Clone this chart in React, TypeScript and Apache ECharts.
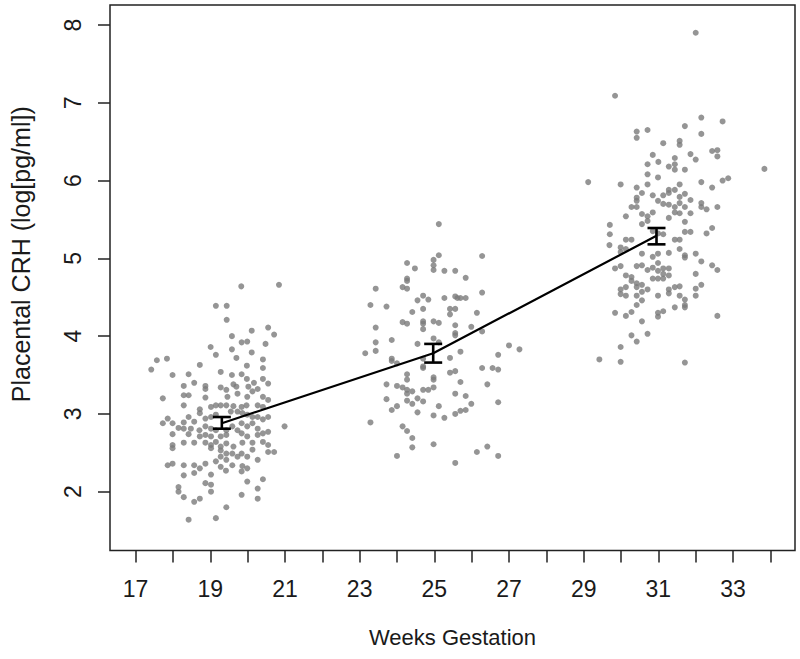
import React, { useEffect, useRef } from "react";
import * as echarts from "echarts";

// Individual samples, [weeks gestation, placental CRH log(pg/ml)]
const week19Points: number[][] = [
  [19.83, 4.64], [20.84, 4.66], [19.15, 4.39], [19.44, 4.39], [19.44, 4.21], [20.55, 4.11], [20.11, 4.07], [20.71, 4.02],
  [19.58, 4.0], [19.84, 3.92], [19.99, 3.93], [20.48, 3.9], [19.01, 3.86], [19.58, 3.83], [20.11, 3.79], [19.15, 3.76],
  [17.57, 3.69], [17.84, 3.71], [19.7, 3.72], [20.41, 3.7], [17.42, 3.57], [18.72, 3.63], [19.98, 3.62], [20.41, 3.59],
  [17.99, 3.5], [18.42, 3.51], [19.28, 3.54], [19.58, 3.5], [19.84, 3.51], [18.57, 3.4], [18.87, 3.36], [19.28, 3.34],
  [19.43, 3.31], [19.98, 3.45], [20.17, 3.4], [20.41, 3.45], [20.55, 3.39], [18.29, 3.36], [18.87, 3.32], [19.62, 3.38],
  [19.7, 3.35], [20.02, 3.35], [20.27, 3.32], [20.13, 3.29], [17.73, 3.2], [18.29, 3.24], [18.42, 3.24], [18.87, 3.21],
  [19.46, 3.22], [19.73, 3.26], [19.99, 3.22], [20.41, 3.22], [20.55, 3.18], [18.29, 3.11], [18.72, 3.06], [19.02, 3.09],
  [19.15, 3.11], [19.28, 3.11], [19.43, 3.11], [19.62, 3.1], [19.84, 3.09], [19.97, 3.11], [20.27, 3.11], [20.41, 3.09],
  [17.73, 2.88], [17.86, 2.94], [17.99, 2.88], [18.29, 2.89], [18.42, 2.96], [18.57, 2.9], [18.72, 3.01], [18.87, 2.94],
  [19.02, 2.96], [19.15, 2.99], [19.55, 3.03], [19.73, 3.03], [19.86, 3.01], [19.99, 2.99], [20.13, 2.96], [20.27, 2.96],
  [20.41, 2.93], [20.55, 2.96], [20.99, 2.84], [18.15, 2.82], [18.29, 2.81], [18.48, 2.81], [18.71, 2.79], [18.87, 2.84],
  [19.02, 2.81], [19.15, 2.79], [19.43, 2.79], [19.59, 2.84], [19.84, 2.88], [19.99, 2.84], [20.13, 2.88], [20.27, 2.81],
  [20.55, 2.77], [17.99, 2.74], [18.42, 2.74], [18.72, 2.71], [18.87, 2.73], [19.02, 2.71], [19.28, 2.71], [19.43, 2.73],
  [19.73, 2.79], [19.84, 2.75], [19.99, 2.71], [20.27, 2.73], [20.41, 2.75], [18.57, 2.63], [18.87, 2.63], [19.02, 2.6],
  [19.15, 2.64], [19.28, 2.58], [19.43, 2.62], [19.62, 2.58], [19.86, 2.63], [20.13, 2.63], [20.41, 2.64], [20.55, 2.6],
  [17.99, 2.6], [18.29, 2.63], [17.99, 2.56], [19.02, 2.56], [19.28, 2.53], [19.43, 2.49], [19.59, 2.49], [19.84, 2.49],
  [20.13, 2.54], [20.55, 2.51], [20.71, 2.51], [19.28, 2.45], [19.43, 2.41], [19.73, 2.45], [19.99, 2.45], [20.27, 2.41],
  [17.86, 2.34], [17.99, 2.36], [18.29, 2.34], [18.57, 2.34], [18.72, 2.3], [18.87, 2.36], [19.15, 2.39], [19.28, 2.32],
  [19.59, 2.34], [19.86, 2.33], [18.29, 2.21], [18.57, 2.24], [19.02, 2.22], [19.42, 2.27], [19.84, 2.26], [19.99, 2.3],
  [20.41, 2.16], [18.15, 2.06], [18.87, 2.11], [19.02, 2.09], [19.99, 2.13], [20.27, 2.04], [18.15, 2.0], [18.29, 1.93],
  [19.02, 2.0], [19.84, 1.96], [20.27, 1.91], [18.57, 1.87], [18.72, 1.91], [19.43, 1.8], [18.42, 1.64], [19.15, 1.66],
];

const week25Points: number[][] = [
  [25.12, 5.44], [25.12, 5.04], [26.28, 5.03], [24.27, 4.94], [24.98, 4.98], [24.98, 4.91], [24.48, 4.87], [24.98, 4.85],
  [25.27, 4.84], [25.56, 4.84], [24.27, 4.74], [24.27, 4.71], [25.84, 4.75], [23.43, 4.61], [24.15, 4.63], [24.27, 4.61],
  [24.7, 4.52], [24.55, 4.46], [24.84, 4.47], [25.27, 4.49], [25.56, 4.51], [25.62, 4.49], [25.7, 4.49], [25.84, 4.49],
  [26.28, 4.56], [23.29, 4.4], [23.72, 4.38], [24.41, 4.31], [24.7, 4.35], [25.42, 4.35], [25.56, 4.35], [25.42, 4.28],
  [26.14, 4.3], [23.43, 4.11], [24.15, 4.18], [24.27, 4.16], [24.7, 4.19], [24.7, 4.16], [24.98, 4.19], [25.12, 4.17],
  [25.56, 4.14], [25.99, 4.12], [24.7, 4.09], [25.56, 4.04], [25.56, 4.01], [26.28, 4.06], [23.43, 3.92], [23.86, 3.95],
  [24.55, 3.9], [24.98, 3.97], [25.12, 3.92], [23.15, 3.78], [23.43, 3.81], [23.86, 3.71], [23.86, 3.68], [24.0, 3.65],
  [24.7, 3.71], [25.42, 3.72], [25.7, 3.8], [26.71, 3.76], [27.0, 3.88], [27.28, 3.83], [24.7, 3.61], [24.7, 3.59],
  [25.42, 3.53], [25.56, 3.55], [26.28, 3.59], [26.56, 3.59], [26.71, 3.57], [24.27, 3.51], [24.27, 3.44], [24.98, 3.47],
  [24.98, 3.44], [25.7, 3.41], [26.42, 3.38], [23.72, 3.38], [24.0, 3.36], [24.15, 3.34], [24.27, 3.31], [24.41, 3.29],
  [24.7, 3.31], [24.84, 3.31], [24.98, 3.34], [24.27, 3.26], [25.56, 3.26], [25.84, 3.23], [23.72, 3.19], [24.0, 3.1],
  [24.27, 3.17], [24.41, 3.13], [24.55, 3.2], [24.7, 3.16], [26.71, 3.15], [25.99, 3.13], [23.86, 3.05], [24.55, 3.02],
  [24.98, 2.98], [25.12, 3.1], [25.27, 2.95], [25.56, 3.0], [25.7, 3.04], [25.84, 3.05], [23.29, 2.89], [24.15, 2.84],
  [24.27, 2.78], [24.41, 2.69], [24.41, 2.57], [24.98, 2.61], [24.0, 2.46], [25.56, 2.37], [26.14, 2.51], [26.42, 2.58],
  [26.71, 2.46],
];

const week31Points: number[][] = [
  [32.0, 7.9], [29.84, 7.09], [32.15, 6.81], [32.72, 6.76], [30.42, 6.63], [30.42, 6.55], [30.71, 6.65], [31.71, 6.7],
  [32.15, 6.6], [31.13, 6.48], [31.57, 6.51], [31.57, 6.46], [32.44, 6.38], [32.58, 6.39], [32.58, 6.31], [30.85, 6.33],
  [31.86, 6.34], [32.0, 6.27], [31.44, 6.29], [30.71, 6.21], [31.0, 6.24], [31.28, 6.18], [31.44, 6.21], [31.44, 6.14],
  [31.71, 6.14], [30.71, 6.08], [30.99, 6.04], [33.84, 6.15], [29.12, 5.98], [29.99, 5.95], [30.42, 5.91], [30.71, 5.95],
  [31.57, 5.95], [32.15, 5.98], [32.44, 5.91], [32.72, 6.0], [32.87, 6.03], [30.56, 5.84], [30.42, 5.78], [30.42, 5.74],
  [30.85, 5.81], [31.28, 5.88], [31.28, 5.84], [31.44, 5.88], [31.13, 5.81], [31.57, 5.79], [31.71, 5.83], [31.86, 5.75],
  [30.28, 5.66], [30.42, 5.66], [30.99, 5.74], [31.13, 5.7], [31.28, 5.69], [31.44, 5.66], [31.57, 5.71], [31.71, 5.66],
  [32.15, 5.71], [32.15, 5.66], [32.29, 5.63], [32.58, 5.66], [30.13, 5.54], [30.56, 5.57], [30.71, 5.54], [30.71, 5.48],
  [30.85, 5.59], [31.28, 5.52], [31.44, 5.59], [31.57, 5.58], [31.71, 5.47], [31.86, 5.58], [29.7, 5.43], [30.56, 5.44],
  [30.85, 5.35], [31.71, 5.34], [31.86, 5.34], [32.29, 5.32], [32.44, 5.39], [29.7, 5.31], [30.99, 5.32], [29.69, 5.17],
  [30.13, 5.24], [30.28, 5.24], [29.99, 5.14], [31.44, 5.24], [31.57, 5.24], [31.13, 5.31], [29.99, 5.08], [30.13, 5.12],
  [30.56, 5.06], [30.85, 5.02], [30.99, 5.06], [31.28, 5.07], [31.57, 5.12], [31.71, 5.04], [31.71, 5.01], [32.0, 5.06],
  [29.84, 4.87], [29.99, 4.9], [30.42, 4.9], [30.56, 4.91], [30.85, 4.88], [30.99, 4.94], [30.99, 4.84], [31.13, 4.87],
  [31.28, 4.87], [32.15, 4.96], [32.44, 4.91], [32.58, 4.85], [30.13, 4.78], [30.28, 4.76], [30.28, 4.71], [30.42, 4.68],
  [30.56, 4.66], [30.71, 4.85], [30.85, 4.74], [30.99, 4.74], [31.13, 4.74], [31.13, 4.8], [31.28, 4.78], [32.0, 4.8],
  [29.99, 4.6], [30.13, 4.63], [30.42, 4.63], [30.56, 4.57], [30.71, 4.6], [31.28, 4.6], [31.44, 4.63], [31.57, 4.64],
  [32.15, 4.66], [32.0, 4.61], [29.99, 4.54], [30.13, 4.52], [30.42, 4.52], [30.56, 4.46], [30.99, 4.52], [31.28, 4.55],
  [31.57, 4.52], [31.71, 4.47], [32.0, 4.52], [30.42, 4.4], [31.44, 4.37], [31.71, 4.4], [31.71, 4.37], [29.84, 4.3],
  [30.13, 4.26], [30.28, 4.31], [30.99, 4.3], [30.99, 4.25], [31.13, 4.32], [32.58, 4.26], [30.56, 4.19], [30.28, 4.01],
  [30.42, 3.93], [30.71, 4.03], [29.99, 3.86], [29.42, 3.7], [29.99, 3.67], [31.71, 3.66],
];

// Group means with their error bars
const meanWeeks = [19.31, 24.97, 30.95];
const meanValues = [2.88, 3.78, 5.29];
const errorLower = [2.81, 3.66, 5.18];
const errorUpper = [2.96, 3.9, 5.39];

// Axis ticks and labels
const xTickValues = [17, 18, 19, 20, 21, 22, 23, 24, 25, 26, 27, 28, 29, 30, 31, 32, 33, 34];
const xLabelValues = [17, 19, 21, 23, 25, 27, 29, 31, 33];
const yTickValues = [2, 3, 4, 5, 6, 7, 8];

const FONT = "'Liberation Sans', Arial, sans-serif";
const INK = "#1a1a1a";

export default function App() {
  const ref = useRef<HTMLDivElement>(null);

  useEffect(() => {
    if (!ref.current) return;
    const chart = echarts.init(ref.current, null, { renderer: "svg" });
    const allPoints = [...week19Points, ...week25Points, ...week31Points];
    chart.setOption({
      animation: false,
      backgroundColor: "#ffffff",
      textStyle: { fontFamily: FONT },
      grid: {
        left: 107,
        right: 5,
        top: 5,
        bottom: 108.5,
        show: true,
        borderColor: "#222",
        borderWidth: 1.5,
        backgroundColor: "transparent",
      },
      xAxis: {
        type: "value",
        min: 16.315,
        max: 34.659,
        name: "Weeks Gestation",
        nameLocation: "middle",
        nameGap: 76,
        nameTextStyle: { fontSize: 22, color: INK, fontFamily: FONT },
        axisLine: { show: false },
        splitLine: { show: false },
        axisTick: {
          show: true,
          inside: false,
          length: 12,
          customValues: xTickValues,
          lineStyle: { color: "#222", width: 1.5 },
        },
        axisLabel: {
          show: true,
          customValues: xLabelValues,
          margin: 27,
          fontSize: 23,
          color: INK,
          fontFamily: FONT,
        },
      },
      yAxis: {
        type: "value",
        min: 1.244,
        max: 8.257,
        name: "Placental CRH (log[pg/ml])",
        nameLocation: "middle",
        nameGap: 77,
        nameTextStyle: { fontSize: 25, color: INK, fontFamily: FONT, padding: [0, 0, 0, 47] },
        axisLine: { show: false },
        splitLine: { show: false },
        axisTick: {
          show: true,
          inside: false,
          length: 12,
          customValues: yTickValues,
          lineStyle: { color: "#222", width: 1.5 },
        },
        axisLabel: {
          show: true,
          customValues: yTickValues,
          rotate: 90,
          margin: 26,
          fontSize: 23,
          color: INK,
          fontFamily: FONT,
        },
      },
      series: [
        {
          type: "scatter",
          data: allPoints,
          symbol: "circle",
          symbolSize: 6,
          itemStyle: { color: "#7a7a7a" },
          silent: true,
          z: 2,
        },
        {
          type: "line",
          data: meanWeeks.map((w, i) => [w, meanValues[i]]),
          symbol: "none",
          lineStyle: { color: "#000", width: 2.2 },
          silent: true,
          z: 3,
        },
        {
          type: "custom",
          data: meanWeeks.map((w, i) => [w, errorLower[i], errorUpper[i]]),
          encode: { x: 0, y: [1, 2] },
          silent: true,
          z: 4,
          renderItem: (params: any, api: any) => {
            const x = api.value(0);
            const pLo = api.coord([x, api.value(1)]);
            const pHi = api.coord([x, api.value(2)]);
            const w = 9;
            const st = { stroke: "#000", lineWidth: 2.6 };
            return {
              type: "group",
              children: [
                { type: "line", shape: { x1: pLo[0], y1: pLo[1], x2: pHi[0], y2: pHi[1] }, style: st },
                { type: "line", shape: { x1: pLo[0] - w, y1: pLo[1], x2: pLo[0] + w, y2: pLo[1] }, style: st },
                { type: "line", shape: { x1: pHi[0] - w, y1: pHi[1], x2: pHi[0] + w, y2: pHi[1] }, style: st },
              ],
            };
          },
        },
      ],
    });
    return () => chart.dispose();
  }, []);

  return (
    <div
      ref={ref}
      style={{ position: "fixed", left: 0, top: 0, width: 800, height: 659, background: "#fff" }}
    />
  );
}
